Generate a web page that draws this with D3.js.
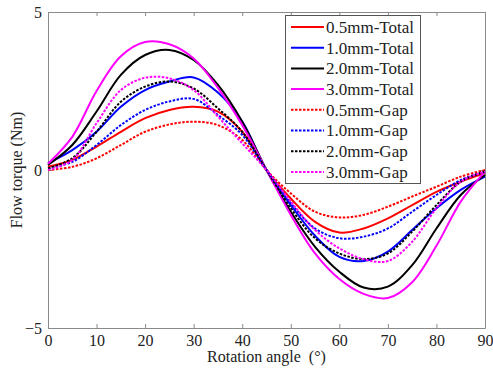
<!DOCTYPE html>
<html>
<head>
<meta charset="utf-8">
<script src="https://cdn.jsdelivr.net/npm/d3@7"></script>
<style>
  body { margin: 0; background: #fff; }
  text { font-family: "Liberation Serif", "Times New Roman", serif; fill: #222; }
</style>
</head>
<body>
<div id="viz"></div>
<script>
// Rotation angle (deg)
let angulos = [0, 5, 10, 15, 20, 25, 30, 35, 40, 45, 50, 55, 60, 65, 70, 75, 80, 85, 90];

// Flow torque (Nm)
let total05 = [0.10, 0.32, 0.74, 1.21, 1.64, 1.90, 2.00, 1.85, 1.21, 0, -0.90, -1.64, -1.98, -1.85, -1.53, -1.11, -0.69, -0.37, -0.10];
let total10 = [0.22, 0.63, 1.21, 2.00, 2.53, 2.80, 2.93, 2.45, 1.53, 0, -1.11, -2.08, -2.75, -2.88, -2.58, -1.90, -1.21, -0.63, -0.21];
let total20 = [0.16, 0.79, 1.85, 3.01, 3.64, 3.80, 3.48, 2.69, 1.53, 0, -1.32, -2.43, -3.22, -3.72, -3.69, -3.01, -1.85, -0.79, -0.16];
let total30 = [0.20, 1.05, 2.50, 3.60, 4.05, 3.98, 3.53, 2.60, 1.42, 0, -1.42, -2.64, -3.45, -3.92, -4.05, -3.55, -2.40, -1.00, -0.05];
let gap05 = [0.00, 0.10, 0.37, 0.79, 1.21, 1.44, 1.53, 1.42, 0.95, 0, -0.74, -1.32, -1.50, -1.42, -1.16, -0.84, -0.53, -0.21, 0.00];
let gap10 = [0.05, 0.26, 0.79, 1.42, 1.90, 2.17, 2.25, 1.74, 1.11, 0, -1.05, -1.85, -2.16, -2.11, -1.85, -1.32, -0.79, -0.32, -0.05];
let gap20 = [0.05, 0.37, 1.21, 2.16, 2.64, 2.80, 2.58, 1.95, 1.21, 0, -1.21, -2.16, -2.64, -2.82, -2.64, -1.95, -1.11, -0.37, -0.05];
let gap30 = [0.00, 0.32, 1.48, 2.53, 2.92, 2.90, 2.53, 1.69, 0.84, 0, -1.00, -1.90, -2.48, -2.82, -2.88, -2.27, -1.21, -0.37, -0.05];

let nombres = ['0.5mm-Total', '1.0mm-Total', '2.0mm-Total', '3.0mm-Total',
               '0.5mm-Gap', '1.0mm-Gap', '2.0mm-Gap', '3.0mm-Gap'];
let colores = ['#ff0000', '#0000ff', '#000000', '#ff00ff',
               '#ff0000', '#0000ff', '#000000', '#ff00ff'];
let valores = [total05, total10, total20, total30, gap05, gap10, gap20, gap30];

let xTicks = [0, 10, 20, 30, 40, 50, 60, 70, 80, 90];
let yTicks = [-5, 0, 5];

let w = 493;
let h = 370;
let izq = 48, der = 485, arriba = 12, abajo = 328;

let series = nombres.map(function(n, i) {
    return {
        nombre: n,
        color: colores[i],
        punteada: i >= 4,
        puntos: angulos.map((a, j) => ({ x: a, y: valores[i][j] }))
    };
});

let svg = d3.select('#viz')
    .append('svg')
        .attr('width', w)
        .attr('height', h);

let x = d3.scaleLinear().domain([0, 90]).range([izq, der]);
let y = d3.scaleLinear().domain([-5, 5]).range([abajo, arriba]);

// Ejes (ticks hacia dentro, como en MATLAB)
let gris = '#8a8a8a';
let ejeX = svg.append('g')
    .attr('transform', `translate(0,${abajo})`)
    .call(d3.axisBottom(x).tickValues(xTicks).tickSize(-4).tickPadding(7).tickSizeOuter(0));
let ejeXTop = svg.append('g')
    .attr('transform', `translate(0,${arriba})`)
    .call(d3.axisTop(x).tickValues(xTicks).tickSize(-4).tickFormat('').tickSizeOuter(0));
let ejeY = svg.append('g')
    .attr('transform', `translate(${izq},0)`)
    .call(d3.axisLeft(y).tickValues(yTicks).tickSize(-4).tickPadding(6).tickSizeOuter(0));
let ejeYDer = svg.append('g')
    .attr('transform', `translate(${der},0)`)
    .call(d3.axisRight(y).tickValues(yTicks).tickSize(-4).tickFormat('').tickSizeOuter(0));

[ejeX, ejeXTop, ejeY, ejeYDer].forEach(function(g) {
    g.selectAll('path, line').attr('stroke', gris).attr('stroke-width', 1);
    g.selectAll('text')
        .style('font-family', '"Liberation Serif", serif')
        .style('font-size', '16px')
        .attr('fill', '#222');
});

// Curvas
let linea = d3.line()
    .x(d => x(d.x))
    .y(d => y(d.y))
    .curve(d3.curveCatmullRom.alpha(0.5));

svg.selectAll('.curva')
    .data(series)
    .enter()
    .append('path')
        .attr('class', 'curva')
        .attr('d', d => linea(d.puntos))
        .attr('fill', 'none')
        .attr('stroke', d => d.color)
        .attr('stroke-width', 2)
        .attr('stroke-dasharray', d => d.punteada ? '2.5,1.5' : null);

// Etiquetas de ejes
svg.append('text')
    .attr('x', (izq + der) / 2)
    .attr('y', 362)
    .attr('text-anchor', 'middle')
    .style('font-size', '16px')
    .style('white-space', 'pre')
    .text('Rotation angle  (°)');

svg.append('text')
    .attr('transform', `translate(22,${(arriba + abajo) / 2}) rotate(-90)`)
    .attr('text-anchor', 'middle')
    .style('font-size', '16px')
    .text('Flow torque (Nm)');

// Leyenda
let leyenda = svg.append('g');
leyenda.append('rect')
    .attr('x', 285.5)
    .attr('y', 15.5)
    .attr('width', 135)
    .attr('height', 168)
    .attr('fill', '#fff')
    .attr('stroke', '#555')
    .attr('stroke-width', 1);

let filas = leyenda.selectAll('.fila')
    .data(series)
    .enter()
    .append('g')
        .attr('class', 'fila')
        .attr('transform', (d, i) => `translate(0,${27 + i * 20.7})`);

filas.append('line')
    .attr('x1', 291)
    .attr('x2', 324)
    .attr('stroke', d => d.color)
    .attr('stroke-width', 2)
    .attr('stroke-dasharray', d => d.punteada ? '2.5,1.5' : null);

filas.append('text')
    .attr('x', 326)
    .attr('dy', '0.35em')
    .style('font-size', '17px')
    .text(d => d.nombre);
</script>
</body>
</html>
